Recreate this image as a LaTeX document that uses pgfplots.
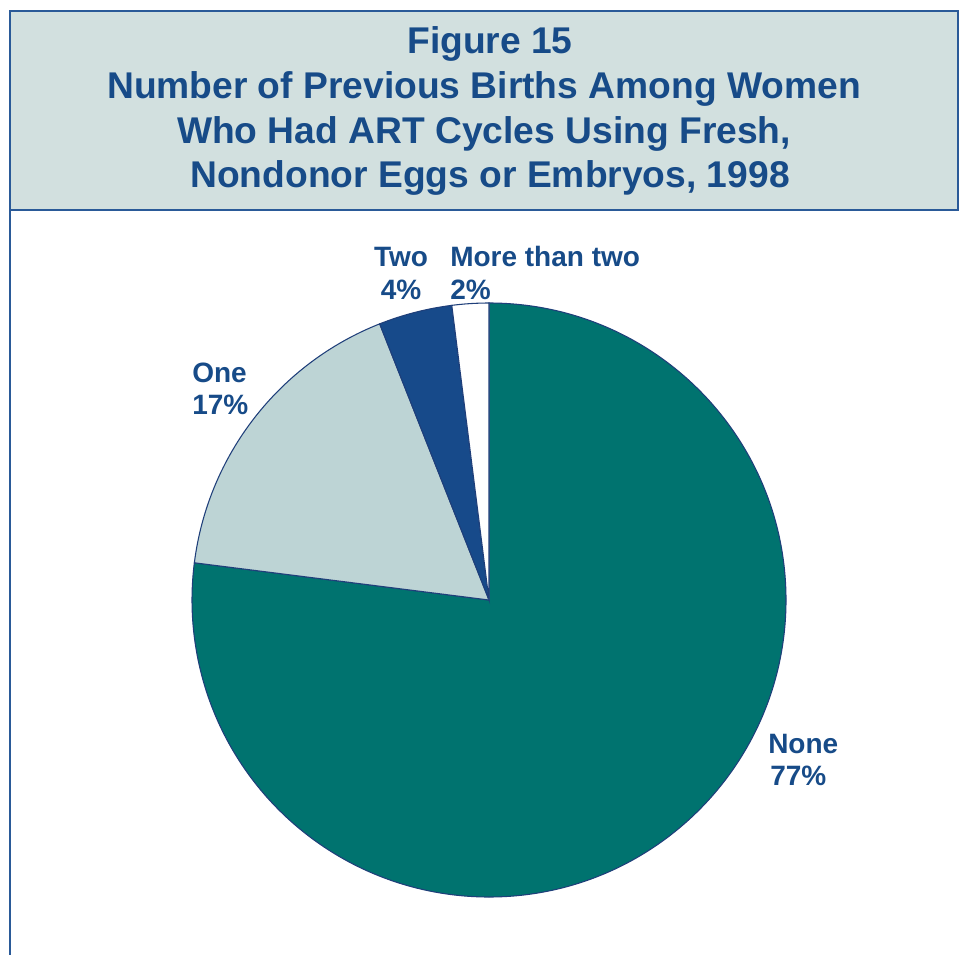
\documentclass[border=0pt]{standalone}
\usepackage{pgfplots}
\usepackage{pgfplotstable}
\pgfplotsset{compat=1.18}
\usepackage{fontspec}
\setmainfont{Liberation Sans}

\definecolor{hdr}{HTML}{D2E0DF}
\definecolor{frame}{HTML}{2A5A98}
\definecolor{txt}{HTML}{174B88}
\definecolor{cNone}{HTML}{00736F}
\definecolor{cOne}{HTML}{BDD4D5}
\definecolor{cTwo}{HTML}{174A8A}
\definecolor{edge}{HTML}{1F3F7A}

% share of women by number of previous births (percent)
\pgfplotstableread{
label value
None 77
One 17
Two 4
More 2
}\births

\begin{document}
\begin{tikzpicture}[x=0.75pt,y=0.75pt]
\useasboundingbox (0,0) rectangle (959,954);

% header box and frame
\filldraw[fill=hdr,draw=frame,line width=2.2pt] (10,943) rectangle (958,744);
\draw[frame,line width=2.2pt] (10,744) -- (10,-5);

\begin{scope}[font=\bfseries\fontsize{27.9}{34}\selectfont,text=txt]
\node[anchor=base] at (490,900) {Figure 15};
\node[anchor=base] at (484,855) {Number of Previous Births Among Women};
\node[anchor=base] at (484,810.5) {Who Had ART Cycles Using Fresh,};
\node[anchor=base] at (490,766) {Nondonor Eggs or Embryos, 1998};
\end{scope}

% slice boundaries, clockwise from 12 o'clock
\pgfplotstablegetelem{0}{value}\of\births \pgfmathsetmacro\aB{90-3.6*\pgfplotsretval}
\pgfplotstablegetelem{1}{value}\of\births \pgfmathsetmacro\aC{\aB-3.6*\pgfplotsretval}
\pgfplotstablegetelem{2}{value}\of\births \pgfmathsetmacro\aD{\aC-3.6*\pgfplotsretval}
\pgfplotstablegetelem{3}{value}\of\births \pgfmathsetmacro\aE{\aD-3.6*\pgfplotsretval}

\coordinate (pc) at (489,354);
\begin{axis}[
  at={(pc)}, anchor=center,
  scale only axis, width=445.5pt, height=445.5pt,
  xmin=-1, xmax=1, ymin=-1, ymax=1,
  hide axis, clip=false,
]
\addplot[draw=none] coordinates {(0,0)};
\filldraw[fill=cNone,draw=edge,line width=0.8pt] (axis cs:0,0) -- (axis cs:0,1)
  arc[start angle=90,end angle=\aB,radius=222.75pt] -- cycle;
\filldraw[fill=cOne,draw=edge,line width=0.8pt] (axis cs:0,0) -- (axis cs:{cos(\aB)},{sin(\aB)})
  arc[start angle=\aB,end angle=\aC,radius=222.75pt] -- cycle;
\filldraw[fill=cTwo,draw=edge,line width=0.8pt] (axis cs:0,0) -- (axis cs:{cos(\aC)},{sin(\aC)})
  arc[start angle=\aC,end angle=\aD,radius=222.75pt] -- cycle;
\filldraw[fill=white,draw=edge,line width=0.8pt] (axis cs:0,0) -- (axis cs:{cos(\aD)},{sin(\aD)})
  arc[start angle=\aD,end angle=\aE,radius=222.75pt] -- cycle;
\end{axis}

\begin{scope}[font=\bfseries\fontsize{21}{25}\selectfont,text=txt]
\node[anchor=base] at (401,687) {Two};
\node[anchor=base] at (401,654) {4\%};
\node[anchor=base west,inner sep=0pt] at (450,687) {More than two};
\node[anchor=base west,inner sep=0pt] at (450,654) {2\%};
\node[anchor=base west,inner sep=0pt] at (192,571) {One};
\node[anchor=base west,inner sep=0pt] at (192,539) {17\%};
\node[anchor=base west,inner sep=0pt] at (768,201) {None};
\node[anchor=base west,inner sep=0pt] at (770,169) {77\%};
\end{scope}
\end{tikzpicture}
\end{document}
